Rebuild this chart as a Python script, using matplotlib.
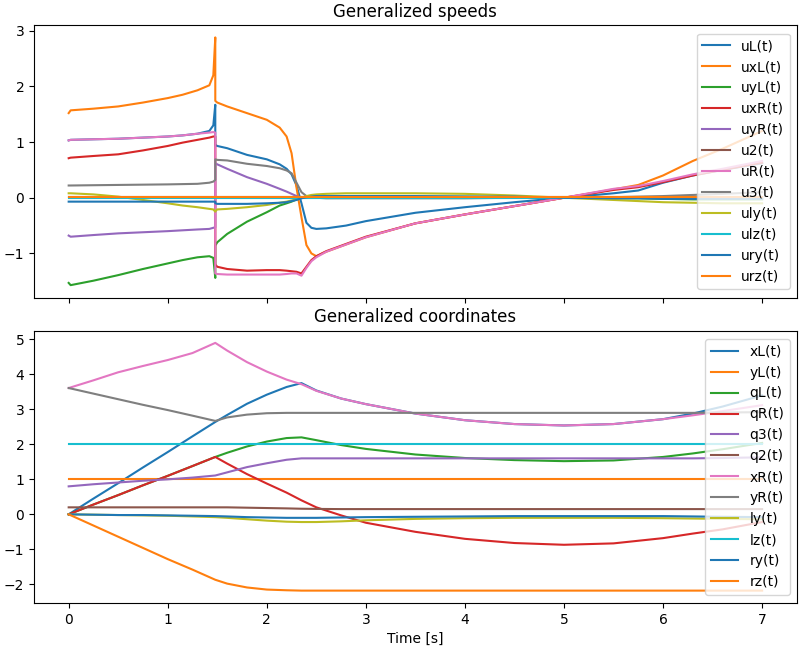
import matplotlib
matplotlib.use("Agg")
import matplotlib.pyplot as plt

# time samples for the speed plot (1.48 appears twice: before/after the impact jump)
t_speeds = [0, 0.02, 0.25, 0.5, 0.75, 1.0, 1.15, 1.3, 1.42, 1.46, 1.48, 1.48, 1.5,
            1.6, 1.8, 2.0, 2.13, 2.2, 2.25, 2.3, 2.35, 2.4, 2.45,
            2.5, 2.6, 2.8, 3.0, 3.5, 4.0, 4.5, 5.0, 5.5, 5.75,
            6.0, 6.3, 6.6, 7.0]

uL = [1.03, 1.04, 1.05, 1.06, 1.08, 1.1, 1.12, 1.15, 1.2, 1.3, 1.67, 0.95, 0.93,
      0.89, 0.77, 0.69, 0.6, 0.52, 0.42, 0.22, -0.1, -0.45, -0.54,
      -0.56, -0.55, -0.5, -0.42, -0.27, -0.17, -0.08, 0.0, 0.08, 0.13,
      0.27, 0.4, 0.5, 0.62]
uxL = [1.52, 1.57, 1.60, 1.64, 1.71, 1.79, 1.85, 1.93, 2.02, 2.2, 2.88, 1.74, 1.71,
       1.64, 1.52, 1.40, 1.26, 1.1, 0.8, 0.18, -0.35, -0.85, -1.0,
       -1.05, -0.97, -0.84, -0.71, -0.46, -0.3, -0.15, 0.0, 0.15, 0.23,
       0.4, 0.66, 0.88, 1.2]
uyL = [-1.53, -1.57, -1.49, -1.39, -1.28, -1.18, -1.12, -1.07, -1.05, -1.08, -1.44, -0.86, -0.8,
       -0.65, -0.43, -0.26, -0.14, -0.1, -0.07, -0.03, 0.0, 0.02, 0.03,
       0.03, 0.03, 0.03, 0.03, 0.02, 0.02, 0.01, 0.0, -0.01, -0.01,
       -0.02, -0.03, -0.03, -0.03]
uxR = [0.71, 0.72, 0.75, 0.78, 0.85, 0.93, 0.99, 1.04, 1.08, 1.1, 1.1, -1.2, -1.24,
       -1.28, -1.31, -1.3, -1.3, -1.31, -1.32, -1.33, -1.36, -1.24, -1.12,
       -1.05, -0.96, -0.83, -0.7, -0.46, -0.3, -0.15, 0.0, 0.14, 0.19,
       0.28, 0.4, 0.5, 0.63]
uyR = [-0.68, -0.7, -0.67, -0.64, -0.62, -0.6, -0.585, -0.57, -0.56, -0.54, -0.53, 0.62, 0.6,
       0.52, 0.37, 0.25, 0.16, 0.11, 0.07, 0.03, 0.0, 0.0, 0.0,
       0.0, 0.0, 0.0, 0.0, 0.0, 0.0, 0.0, 0.0, 0.0, 0.0,
       0.0, 0.0, 0.0, 0.0]
u2 = [0.01] * len(t_speeds)
uR = [1.03, 1.04, 1.05, 1.06, 1.08, 1.1, 1.12, 1.15, 1.17, 1.18, 1.17, -1.36, -1.37,
      -1.38, -1.38, -1.38, -1.38, -1.37, -1.36, -1.36, -1.4, -1.26, -1.14,
      -1.07, -0.97, -0.84, -0.71, -0.46, -0.3, -0.15, 0.0, 0.16, 0.21,
      0.3, 0.42, 0.52, 0.66]
u3 = [0.22, 0.22, 0.225, 0.23, 0.235, 0.24, 0.245, 0.25, 0.27, 0.29, 0.32, 0.69, 0.68,
      0.67, 0.61, 0.57, 0.53, 0.49, 0.44, 0.27, 0.1, 0.03, 0.01,
      0.0, -0.01, -0.01, -0.01, -0.01, -0.01, 0.0, 0.0, 0.01, 0.02,
      0.03, 0.05, 0.07, 0.1]
uly = [0.08, 0.08, 0.06, 0.02, -0.04, -0.1, -0.14, -0.17, -0.2, -0.21, -0.25, -0.24, -0.21,
       -0.2, -0.17, -0.13, -0.09, -0.07, -0.05, -0.03, 0.0, 0.03, 0.05,
       0.06, 0.07, 0.08, 0.08, 0.08, 0.07, 0.04, 0.0, -0.04, -0.06,
       -0.08, -0.09, -0.1, -0.1]
ulz = [0.0] * len(t_speeds)
ury = [-0.07, -0.07, -0.07, -0.07, -0.07, -0.07, -0.07, -0.07, -0.07, -0.07, -0.07, -0.1, -0.11,
       -0.11, -0.11, -0.1, -0.09, -0.08, -0.06, -0.04, -0.01, 0.01, 0.02,
       0.03, 0.03, 0.03, 0.03, 0.03, 0.02, 0.02, 0.0, -0.01, -0.01,
       -0.02, -0.02, -0.02, -0.02]
urz = [0.01] * len(t_speeds)

speed_names = ["uL(t)", "uxL(t)", "uyL(t)", "uxR(t)", "uyR(t)", "u2(t)",
               "uR(t)", "u3(t)", "uly(t)", "ulz(t)", "ury(t)", "urz(t)"]
speeds = [uL, uxL, uyL, uxR, uyR, u2, uR, u3, uly, ulz, ury, urz]

# time samples for the coordinate plot
t_coords = [0, 0.25, 0.5, 0.75, 1.0, 1.25, 1.48, 1.6, 1.8, 2.0,
            2.2, 2.35, 2.5, 2.75, 3.0, 3.5, 4.0, 4.5, 5.0, 5.5,
            6.0, 6.3, 6.6, 7.0]

xL = [0, 0.45, 0.89, 1.34, 1.78, 2.23, 2.64, 2.84, 3.16, 3.42,
      3.64, 3.75, 3.54, 3.31, 3.15, 2.88, 2.69, 2.58, 2.54, 2.58,
      2.72, 2.88, 3.08, 3.4]
yL = [1.0] * len(t_coords)
qL = [0, 0.28, 0.55, 0.83, 1.1, 1.38, 1.64, 1.76, 1.94, 2.08,
      2.18, 2.2, 2.12, 1.98, 1.87, 1.71, 1.61, 1.55, 1.52, 1.54,
      1.64, 1.74, 1.86, 2.04]
qR = [0, 0.28, 0.55, 0.83, 1.1, 1.38, 1.64, 1.45, 1.15, 0.88,
      0.62, 0.4, 0.2, -0.03, -0.24, -0.5, -0.7, -0.82, -0.87, -0.83,
      -0.68, -0.55, -0.43, -0.22]
q3 = [0.8, 0.86, 0.91, 0.96, 1.0, 1.05, 1.11, 1.2, 1.35, 1.46,
      1.56, 1.6, 1.6, 1.6, 1.6, 1.6, 1.6, 1.6, 1.6, 1.6,
      1.6, 1.6, 1.61, 1.63]
q2 = [0.2, 0.2, 0.2, 0.2, 0.2, 0.2, 0.2, 0.2, 0.19, 0.18,
      0.17, 0.16, 0.155, 0.15, 0.15, 0.15, 0.15, 0.15, 0.15, 0.15,
      0.15, 0.15, 0.15, 0.15]
xR = [3.61, 3.83, 4.06, 4.24, 4.41, 4.61, 4.9, 4.68, 4.35, 4.08,
      3.85, 3.72, 3.53, 3.31, 3.15, 2.88, 2.69, 2.58, 2.54, 2.58,
      2.72, 2.83, 2.95, 3.12]
yR = [3.61, 3.45, 3.29, 3.13, 2.98, 2.82, 2.67, 2.77, 2.85, 2.89,
      2.9, 2.9, 2.9, 2.9, 2.9, 2.9, 2.9, 2.9, 2.9, 2.9,
      2.9, 2.9, 2.91, 2.92]
ly = [0, -0.01, -0.02, -0.03, -0.04, -0.06, -0.08, -0.1, -0.14, -0.18,
      -0.21, -0.22, -0.22, -0.2, -0.17, -0.13, -0.11, -0.1, -0.1, -0.1,
      -0.11, -0.12, -0.13, -0.14]
lz = [2.0] * len(t_coords)
ry = [0, -0.01, -0.02, -0.02, -0.03, -0.04, -0.05, -0.06, -0.08, -0.09,
      -0.1, -0.1, -0.1, -0.09, -0.08, -0.07, -0.06, -0.05, -0.05, -0.05,
      -0.05, -0.06, -0.07, -0.08]
rz = [0, -0.32, -0.64, -0.96, -1.28, -1.58, -1.87, -1.98, -2.09, -2.15,
      -2.17, -2.18, -2.18, -2.18, -2.18, -2.18, -2.18, -2.18, -2.18, -2.18,
      -2.18, -2.18, -2.18, -2.18]

coord_names = ["xL(t)", "yL(t)", "qL(t)", "qR(t)", "q3(t)", "q2(t)",
               "xR(t)", "yR(t)", "ly(t)", "lz(t)", "ry(t)", "rz(t)"]
coords = [xL, yL, qL, qR, q3, q2, xR, yR, ly, lz, ry, rz]

fig, (ax1, ax2) = plt.subplots(2, 1, sharex=True, figsize=(8, 6.5), dpi=100)
fig.subplots_adjust(left=0.0425, right=0.996, top=0.9615, bottom=0.0723, hspace=0.121)

for name, vals in zip(speed_names, speeds):
    ax1.plot(t_speeds, vals, label=name)
ax1.set_title("Generalized speeds")
ax1.legend(loc="center right")

for name, vals in zip(coord_names, coords):
    ax2.plot(t_coords, vals, label=name)
ax2.set_title("Generalized coordinates")
ax2.set_xlabel("Time [s]")
ax2.legend(loc="center right")

fig.savefig("out.png")
